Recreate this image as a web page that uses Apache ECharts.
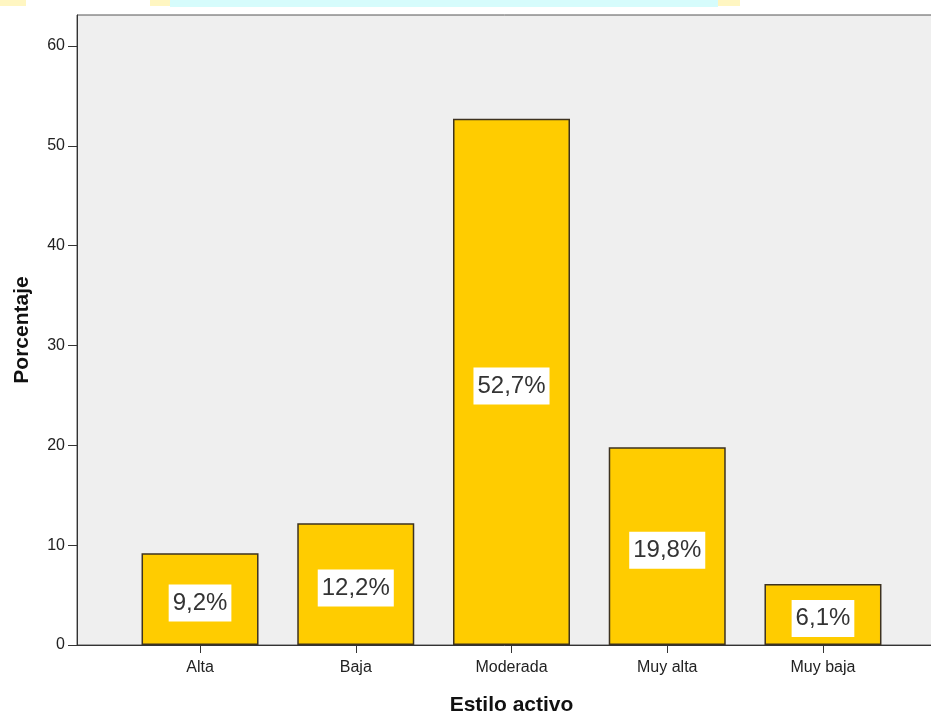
<!DOCTYPE html>
<html>
<head>
<meta charset="utf-8">
<script src="https://cdn.jsdelivr.net/npm/echarts@6/dist/echarts.min.js"></script>
<style>
  html, body { margin: 0; padding: 0; background: #ffffff; }
  #chart { width: 931px; height: 715px; }
</style>
</head>
<body>
<div id="chart"></div>
<script>
const categories = ['Alta', 'Baja', 'Moderada', 'Muy alta', 'Muy baja'];
const percentages = [9.2, 12.2, 52.7, 19.8, 6.1];
const yTicks = [0, 10, 20, 30, 40, 50, 60];
const xTitle = 'Estilo activo';
const yTitle = 'Porcentaje';

const positions = categories.map((c, i) => i);
const barData = percentages.map((v, i) => [positions[i], v]);
const font = '"Liberation Sans", Arial, sans-serif';

const chart = echarts.init(document.getElementById('chart'), null, { renderer: 'canvas' });
chart.setOption({
  animation: false,
  backgroundColor: '#ffffff',
  graphic: [
    { type: 'rect', shape: { x: 170, y: 0, width: 548, height: 7 }, style: { fill: '#d6fcfc' }, z: 0 },
    { type: 'rect', shape: { x: 0, y: 0, width: 26, height: 6 }, style: { fill: '#fff6c2' }, z: 0 },
    { type: 'rect', shape: { x: 150, y: 0, width: 20, height: 6 }, style: { fill: '#fff6c2' }, z: 0 },
    { type: 'rect', shape: { x: 718, y: 0, width: 22, height: 6 }, style: { fill: '#fff6c2' }, z: 0 }
  ],
  grid: {
    left: 77, top: 15, width: 869, height: 630,
    outerBoundsMode: 'none', containLabel: false,
    show: true, backgroundColor: '#efefef', borderColor: '#555555', borderWidth: 1
  },
  xAxis: {
    type: 'value', min: -0.79, max: 4.79,
    name: xTitle, nameLocation: 'middle', nameGap: 50,
    nameTextStyle: { fontFamily: font, fontSize: 21, fontWeight: 'bold', color: '#111' },
    axisLine: { show: true, onZero: false, lineStyle: { color: '#333', width: 1 } },
    axisTick: { show: true, length: 8, customValues: positions, lineStyle: { color: '#333' } },
    axisLabel: {
      customValues: positions, margin: 15,
      formatter: v => categories[Math.round(v)] || '',
      fontFamily: font, fontSize: 16, color: '#222'
    },
    splitLine: { show: false }
  },
  yAxis: {
    type: 'value', min: 0, max: 63.1,
    name: yTitle, nameLocation: 'middle', nameGap: 44, nameRotate: 90,
    nameTextStyle: { fontFamily: font, fontSize: 21, fontWeight: 'bold', color: '#111' },
    axisLine: { show: true, onZero: false, lineStyle: { color: '#333', width: 1 } },
    axisTick: { show: true, length: 9, customValues: yTicks, lineStyle: { color: '#333' } },
    axisLabel: {
      customValues: yTicks, margin: 12, padding: [8, 0, 0, 0],
      fontFamily: font, fontSize: 16, color: '#222'
    },
    splitLine: { show: false }
  },
  series: [{
    type: 'bar',
    data: barData,
    barWidth: 117,
    itemStyle: { color: '#ffcc00', borderColor: '#3d3220', borderWidth: 1.5 },
    label: {
      show: true, position: 'inside', offset: [0, 4],
      formatter: p => p.value[1].toFixed(1).replace('.', ',') + '%',
      fontFamily: font, fontSize: 24, color: '#333',
      backgroundColor: '#ffffff', padding: [7, 4, 5, 4], lineHeight: 25
    }
  }]
});
</script>
</body>
</html>
